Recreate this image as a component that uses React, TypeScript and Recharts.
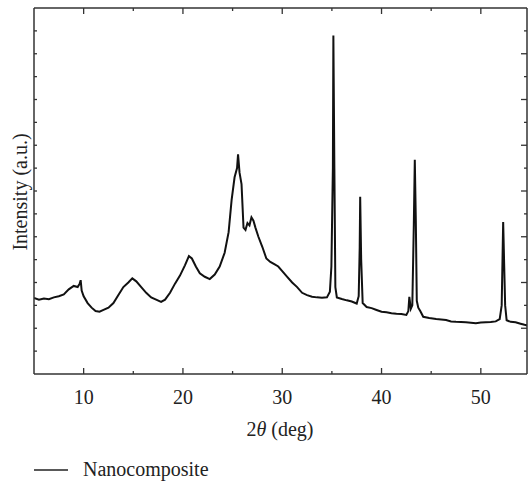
import { LineChart, Line, XAxis, YAxis, Legend } from "recharts";

// 2θ positions (deg) and intensity (a.u.)
const twoTheta = [
  5.0, 5.5, 6.0, 6.5, 7.0, 7.5, 8.0, 8.5, 9.0, 9.4, 9.6, 9.7, 9.8, 10.0, 10.4,
  10.8, 11.2, 11.6, 12.0, 12.5, 13.0, 13.5, 14.0, 14.5, 14.9, 15.3, 15.8, 16.3,
  16.8, 17.3, 17.8, 18.2, 18.7, 19.2, 19.7, 20.2, 20.6, 20.9, 21.3, 21.7, 22.2,
  22.7, 23.2, 23.7, 24.2, 24.6, 24.9, 25.2, 25.45, 25.55, 25.7, 25.9, 26.1,
  26.3, 26.5, 26.7, 26.9, 27.1, 27.3, 27.6, 28.0, 28.4, 28.8, 29.2, 29.6, 30.0,
  30.5, 31.0, 31.5, 32.0, 32.5, 33.0, 33.5, 34.0, 34.5, 34.8, 34.95, 35.1,
  35.15, 35.25, 35.35, 35.5, 36.0, 36.5, 37.0, 37.5, 37.7, 37.8, 37.85, 37.95,
  38.1, 38.5, 39.0, 39.5, 40.0, 40.5, 41.0, 41.5, 42.0, 42.5, 42.7, 42.8,
  42.95, 43.1, 43.25, 43.35, 43.45, 43.55, 43.7, 43.9, 44.2, 44.8, 45.5, 46.0,
  46.5, 47.0, 47.5, 48.0, 48.5, 49.0, 49.5, 50.0, 50.5, 51.0, 51.5, 51.9, 52.1,
  52.25, 52.35, 52.45, 52.6, 53.0, 53.5, 54.0, 54.4, 54.7,
];
const intensity = [
  3.32, 3.25, 3.3, 3.27, 3.35, 3.4, 3.48, 3.7, 3.85, 3.8, 3.95, 4.1, 3.65, 3.4,
  3.1, 2.9, 2.75, 2.72, 2.8, 2.9, 3.1, 3.45, 3.8, 4.0, 4.18, 4.05, 3.8, 3.55,
  3.35, 3.25, 3.15, 3.25, 3.55, 3.95, 4.3, 4.75, 5.15, 5.05, 4.7, 4.4, 4.25,
  4.15, 4.35, 4.7, 5.3, 6.2, 7.6, 8.6, 9.0, 9.6, 8.8, 8.3, 6.4, 6.3, 6.6, 6.5,
  6.85, 6.7, 6.4, 6.0, 5.55, 5.05, 4.9, 4.8, 4.7, 4.5, 4.25, 4.0, 3.8, 3.55,
  3.45, 3.38, 3.35, 3.33, 3.35, 3.6, 4.7, 9.0, 14.8, 9.0, 3.8, 3.35, 3.28,
  3.22, 3.17, 3.08, 3.4, 5.5, 7.75, 5.0, 3.1, 2.93, 2.88, 2.8, 2.72, 2.7, 2.66,
  2.63, 2.62, 2.58, 2.75, 3.37, 2.85, 3.0, 6.5, 9.36, 6.8, 3.2, 2.9, 2.75, 2.5,
  2.45, 2.4, 2.38, 2.36, 2.3, 2.28, 2.27, 2.26, 2.24, 2.22, 2.25, 2.26, 2.27,
  2.3, 2.4, 3.0, 6.64, 4.8, 3.0, 2.35, 2.28, 2.26, 2.2, 2.15, 2.12,
];

const xMajorTicks = [10, 20, 30, 40, 50];
const xTicks = [10, 15, 20, 25, 30, 35, 40, 45, 50];
const yTicks = [1, 2, 3, 4, 5, 6, 7, 8, 9, 10, 11, 12, 13, 14, 15];
const xDomain = [5, 54.65];
const yMax = 16;

const data = twoTheta.map((x, i) => ({ x, y: intensity[i] }));

const FONT = "'Liberation Serif', 'Times New Roman', serif";
const FRAME = "#333";
const textStyle = { fontFamily: FONT, fontSize: 20 };

// plot box (matches chart margins / axis sizes below)
const PLOT_LEFT = 34;
const PLOT_RIGHT = 527;
const PLOT_TOP = 8;

const BottomTick = ({ x, y, payload }: any) => {
  const major = xMajorTicks.includes(payload.value);
  return (
    <g>
      <line x1={x} x2={x} y1={y} y2={y - (major ? 6 : 3)} stroke={FRAME} strokeWidth={1.3} />
      {major && (
        <text x={x} y={y + 30} textAnchor="middle" style={textStyle} fill="#222">
          {payload.value}
        </text>
      )}
    </g>
  );
};

const LeftTick = ({ x, y }: any) => (
  <line x1={x} x2={x + 3} y1={y} y2={y} stroke={FRAME} strokeWidth={1.3} />
);

const RightTick = ({ x, y, payload }: any) => {
  const major = payload.value % 2 === 0;
  return <line x1={x} x2={x - (major ? 6 : 3)} y1={y} y2={y} stroke={FRAME} strokeWidth={1.3} />;
};

const YLabel = () => (
  <text
    x={27}
    y={192}
    transform="rotate(-90, 27, 192)"
    textAnchor="middle"
    style={textStyle}
    fill="#222"
  >
    Intensity (a.u.)
  </text>
);

const XLabel = () => (
  <text x={280} y={436} textAnchor="middle" style={textStyle} fill="#222">
    2<tspan fontStyle="italic">θ</tspan> (deg)
  </text>
);

const renderLegend = () => (
  <svg width={220} height={26}>
    <line x1={4} x2={38} y1={12} y2={12} stroke="#222" strokeWidth={1.3} />
    <text x={53} y={18} style={textStyle} fill="#222">
      Nanocomposite
    </text>
  </svg>
);

// top frame line with inward ticks, overlaid on the chart
const TopFrame = () => {
  const toPx = (v: number) =>
    PLOT_LEFT + ((v - xDomain[0]) / (xDomain[1] - xDomain[0])) * (PLOT_RIGHT - PLOT_LEFT);
  return (
    <svg
      width={528}
      height={20}
      style={{ position: "absolute", left: 0, top: 0, pointerEvents: "none" }}
    >
      <line x1={PLOT_LEFT} x2={PLOT_RIGHT} y1={PLOT_TOP} y2={PLOT_TOP} stroke={FRAME} strokeWidth={1.5} />
      {xTicks.map((t) => (
        <line
          key={t}
          x1={toPx(t)}
          x2={toPx(t)}
          y1={PLOT_TOP}
          y2={PLOT_TOP + (xMajorTicks.includes(t) ? 6 : 3)}
          stroke={FRAME}
          strokeWidth={1.3}
        />
      ))}
    </svg>
  );
};

export default function App() {
  return (
    <div style={{ position: "absolute", left: 0, top: 0, width: 528, height: 483, background: "#fff" }}>
      <LineChart width={528} height={483} data={data} margin={{ top: PLOT_TOP, right: 0, bottom: 0, left: 0 }}>
        <XAxis
          xAxisId="xb"
          dataKey="x"
          type="number"
          domain={xDomain}
          allowDataOverflow
          ticks={xTicks}
          interval={0}
          height={109}
          tickSize={0}
          tickMargin={0}
          tickLine={false}
          tick={<BottomTick />}
          axisLine={{ stroke: FRAME, strokeWidth: 1.5 }}
          label={<XLabel />}
        />
        <YAxis
          yAxisId="yl"
          type="number"
          domain={[0, yMax]}
          allowDataOverflow
          ticks={yTicks}
          interval={0}
          width={PLOT_LEFT}
          tickSize={0}
          tickMargin={0}
          tickLine={false}
          tick={<LeftTick />}
          axisLine={{ stroke: FRAME, strokeWidth: 1.5 }}
          label={<YLabel />}
        />
        <YAxis
          yAxisId="yr"
          orientation="right"
          type="number"
          domain={[0, yMax]}
          allowDataOverflow
          ticks={yTicks}
          interval={0}
          width={1}
          tickSize={0}
          tickMargin={0}
          tickLine={false}
          tick={<RightTick />}
          axisLine={{ stroke: FRAME, strokeWidth: 1.5 }}
        />
        <Legend
          layout="horizontal"
          verticalAlign="middle"
          align="center"
          content={renderLegend}
          wrapperStyle={{ top: 458, left: 30, width: "auto" }}
        />
        <Line
          xAxisId="xb"
          yAxisId="yl"
          type="linear"
          dataKey="y"
          name="Nanocomposite"
          stroke="#111"
          strokeWidth={2}
          dot={false}
          isAnimationActive={false}
        />
        <Line
          xAxisId="xb"
          yAxisId="yr"
          type="linear"
          dataKey="y"
          stroke="none"
          dot={false}
          legendType="none"
          isAnimationActive={false}
        />
      </LineChart>
      <TopFrame />
    </div>
  );
}
